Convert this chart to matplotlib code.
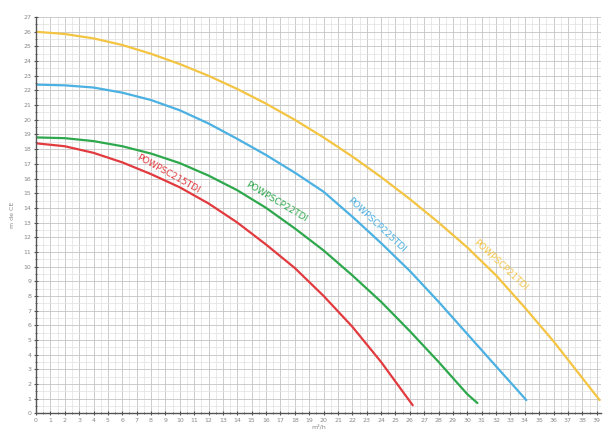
import matplotlib
matplotlib.use('Agg')
import matplotlib.pyplot as plt
from matplotlib.ticker import MultipleLocator

RED = '#e23b3f'
GREEN = '#2ea84c'
BLUE = '#4bb0e2'
YELLOW = '#f4c443'

# pump curves: flow (m3/h) vs head (m)
red_q = [0, 2, 4, 6, 8, 10, 12, 14, 16, 18, 20, 22, 24, 26.2]
red_h = [18.4, 18.2, 17.75, 17.1, 16.3, 15.4, 14.3, 13.0, 11.5, 9.9, 8.0, 5.9, 3.5, 0.55]

green_q = [0, 2, 4, 6, 8, 10, 12, 14, 16, 18, 20, 22, 24, 26, 28, 30, 30.7]
green_h = [18.8, 18.75, 18.55, 18.2, 17.7, 17.05, 16.2, 15.2, 14.0, 12.6, 11.1,
           9.4, 7.6, 5.6, 3.5, 1.3, 0.7]

blue_q = [0, 2, 4, 6, 8, 10, 12, 14, 16, 18, 20, 22, 24, 26, 28, 30, 32, 34.1]
blue_h = [22.4, 22.35, 22.2, 21.85, 21.35, 20.65, 19.75, 18.7, 17.6, 16.4, 15.1,
          13.4, 11.6, 9.7, 7.6, 5.4, 3.2, 0.9]

yellow_q = [0, 2, 4, 6, 8, 10, 12, 14, 16, 18, 20, 22, 24, 26, 28, 30, 32, 34,
            36, 38, 39.2]
yellow_h = [26.0, 25.85, 25.55, 25.1, 24.5, 23.8, 23.0, 22.1, 21.1, 20.0, 18.8,
            17.5, 16.1, 14.6, 13.0, 11.3, 9.4, 7.2, 4.9, 2.4, 0.9]

names = ['POWPSC215TDI', 'POWPSCP22TDI', 'POWPSCP225TDI', 'POWPSCP21TDI']

fig = plt.figure(figsize=(6.05, 4.33), dpi=100)
ax = fig.add_axes([0.0595, 0.0455, 0.934, 0.915])

ax.set_xlim(0, 39.3)
ax.set_ylim(0, 27)
ax.xaxis.set_major_locator(MultipleLocator(1))
ax.xaxis.set_minor_locator(MultipleLocator(0.5))
ax.yaxis.set_major_locator(MultipleLocator(1))
ax.yaxis.set_minor_locator(MultipleLocator(0.5))

ax.grid(True, which='major', color='#c4c4c4', linewidth=0.6)
ax.grid(True, which='minor', color='#e0e0e0', linewidth=0.5)
ax.set_axisbelow(True)

for s in ['top', 'right']:
    ax.spines[s].set_visible(False)
for s in ['left', 'bottom']:
    ax.spines[s].set_color('#555555')
    ax.spines[s].set_linewidth(1.0)

ax.tick_params(which='major', length=2.5, width=0.8, color='#555555',
               labelsize=4.5, labelcolor='#888888', pad=2, direction='inout')
ax.tick_params(which='minor', length=1.5, width=0.6, color='#555555', direction='inout')

ax.plot(red_q, red_h, color=RED, lw=1.6, solid_capstyle='round')
ax.plot(green_q, green_h, color=GREEN, lw=1.6, solid_capstyle='round')
ax.plot(blue_q, blue_h, color=BLUE, lw=1.6, solid_capstyle='round')
ax.plot(yellow_q, yellow_h, color=YELLOW, lw=1.6, solid_capstyle='round')

# curve labels
ax.text(9.2, 16.3, names[0], color=RED, fontsize=6.5, rotation=-29,
        ha='center', va='center')
ax.text(16.7, 14.4, names[1], color=GREEN, fontsize=6.5, rotation=-31,
        ha='center', va='center')
ax.text(23.7, 12.8, names[2], color=BLUE, fontsize=6.5, rotation=-43,
        ha='center', va='center')
ax.text(32.3, 10.1, names[3], color=YELLOW, fontsize=6.5, rotation=-43,
        ha='center', va='center')

ax.set_xlabel('m³/h', fontsize=4.5, color='#888888', labelpad=1)
ax.set_ylabel('m de CE', fontsize=4.5, color='#888888', labelpad=6)

plt.savefig('out.png', dpi=100, facecolor='white')
